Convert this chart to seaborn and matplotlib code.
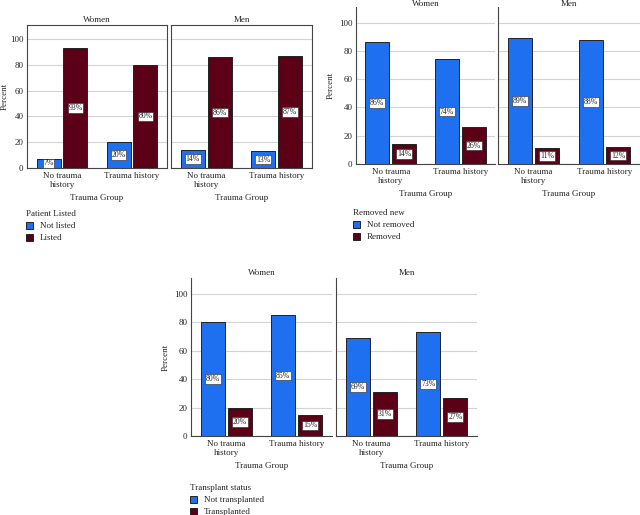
import numpy as np
import pandas as pd
import matplotlib
matplotlib.use('Agg')
import matplotlib.pyplot as plt
import seaborn as sns

# ---- data ----
groups = ['No trauma\nhistory', 'Trauma history']
sexes = ['Women', 'Men']

listed_levels = ['Not listed', 'Listed']
listed_women = [[7, 93], [20, 80]]
listed_men = [[14, 86], [13, 87]]

removed_levels = ['Not removed', 'Removed']
removed_women = [[86, 14], [74, 26]]
removed_men = [[89, 11], [88, 12]]

transplant_levels = ['Not transplanted', 'Transplanted']
transplant_women = [[80, 20], [85, 15]]
transplant_men = [[69, 31], [73, 27]]

blue = '#1f70f0'
darkred = '#5b0017'
fs = 6.5

sns.set_theme(style='white')
plt.rcParams['font.family'] = ['Liberation Serif', 'DejaVu Serif']

W, H = 640, 515
fig = plt.figure(figsize=(W / 100, H / 100), dpi=100)


def px(l, t, r, b):
    return [l / W, 1 - b / H, (r - l) / W, (b - t) / H]


def make_df(levels, women, men):
    rows = []
    for sex, vals in zip(sexes, [women, men]):
        for g, pair in zip(groups, vals):
            for lev, v in zip(levels, pair):
                rows.append({'sex': sex, 'group': g, 'status': lev, 'pct': v})
    return pd.DataFrame(rows)


def draw_panel(df, levels, title, boxes, legend_xy, full_box, title_pad=2,
               ylabel_pad=3):
    handles = None
    for i, (sex, box) in enumerate(zip(sexes, boxes)):
        ax = fig.add_axes(px(*box))
        sub = df[df['sex'] == sex]
        sns.barplot(data=sub, x='group', y='pct', hue='status', order=groups,
                    hue_order=levels, palette=[blue, darkred], width=0.77,
                    gap=0.11, edgecolor='#222222', linewidth=0.7,
                    saturation=1, ax=ax, legend=True)
        for cont in ax.containers:
            labs = ['%d%%' % round(b.get_height()) for b in cont]
            ax.bar_label(cont, labels=labs, label_type='center', fontsize=5.6,
                         bbox=dict(boxstyle='square,pad=0.1', fc='white',
                                   ec='#222222', lw=0.4))
        handles, labels = ax.get_legend_handles_labels()
        ax.get_legend().remove()
        ax.set_ylim(0, 111)
        ax.set_xlim(-0.5, 1.5)
        ax.set_yticks([0, 20, 40, 60, 80, 100])
        ax.yaxis.grid(True, color='#d4d4d4', lw=0.8)
        ax.set_axisbelow(True)
        ax.tick_params(axis='x', length=0, labelsize=fs, pad=3)
        ax.tick_params(axis='y', length=0, labelsize=fs, pad=2.5)
        ax.set_xlabel('Trauma Group', fontsize=fs, labelpad=3)
        ax.set_title(sex, fontsize=fs, pad=title_pad)
        if i == 0:
            ax.set_ylabel('Percent', fontsize=fs, labelpad=ylabel_pad)
        else:
            ax.set_ylabel('')
            ax.set_yticklabels([])
        for s in ['left', 'bottom', 'right', 'top']:
            ax.spines[s].set_color('#444444')
            ax.spines[s].set_linewidth(0.8)
        if not full_box:
            ax.spines['right'].set_visible(False)
            ax.spines['top'].set_visible(False)
    leg = fig.legend(handles, labels, title=title, loc='upper left',
                     bbox_to_anchor=(legend_xy[0] / W, 1 - legend_xy[1] / H),
                     frameon=False, fontsize=fs, title_fontsize=fs,
                     handlelength=0.8, handleheight=0.8, handletextpad=0.7,
                     labelspacing=0.4, borderpad=0, borderaxespad=0,
                     alignment='left')
    for h in leg.legend_handles:
        h.set_edgecolor('#222222')


draw_panel(make_df(listed_levels, listed_women, listed_men), listed_levels,
           'Patient Listed', [(27, 25, 167, 168), (171, 25, 312, 168)],
           (26, 210), True, ylabel_pad=1)
draw_panel(make_df(removed_levels, removed_women, removed_men), removed_levels,
           'Removed new', [(356, 7, 495, 164), (498, 7, 640, 164)],
           (353, 209), False, title_pad=0.5)
draw_panel(make_df(transplant_levels, transplant_women, transplant_men),
           transplant_levels, 'Transplant status',
           [(191, 278, 332, 436), (336, 278, 477, 436)], (190, 484), False)

fig.savefig('out.png', dpi=100)
